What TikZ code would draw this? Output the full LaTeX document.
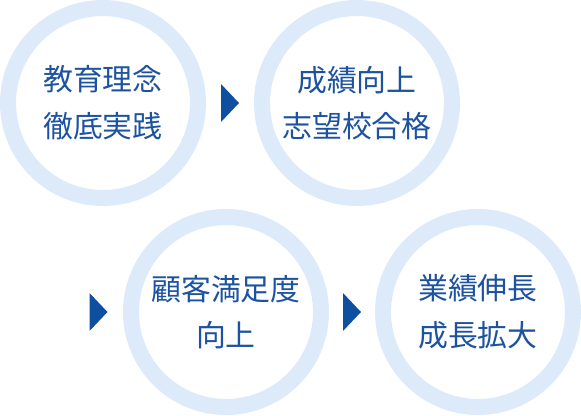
\documentclass[tikz,border=0pt]{standalone}
\usepackage{fontspec}
\newfontfamily\jpfont{Noto Sans CJK JP}
\usetikzlibrary{calc, positioning}
\definecolor{ringblue}{RGB}{221,234,250}
\definecolor{textblue}{RGB}{28,82,160}
\definecolor{triblue}{RGB}{14,79,159}

\begin{document}
\begin{tikzpicture}[
    ring/.style={circle, draw=ringblue, line width=0.32cm, fill=white, minimum size=3.8cm, inner sep=0pt,
        align=center, text=textblue, font=\jpfont\fontsize{17pt}{26.5pt}\selectfont},
    tri/.style={fill=triblue},
]
\useasboundingbox (0,0) rectangle (11.62,8.3);
% --- top row ---
\node[ring] (c1) at (2.06, 6.24) {教育理念\\徹底実践};
\node[ring] (c2) at (7.14, 6.24) {成績向上\\志望校合格};
% --- bottom row ---
\node[ring] (c3) at (4.52, 2.06) {顧客満足度\\向上};
\node[ring] (c4) at (9.56, 2.06) {業績伸長\\成長拡大};
% --- arrow heads ---
\coordinate (t1) at ($(c1)!0.5!(c2)$);
\coordinate (t2) at ($(c3)+(-2.55,0)$);
\coordinate (t3) at ($(c3)!0.5!(c4)$);
\foreach \t in {t1, t2, t3} {
    \fill[tri] ($(\t)+(-0.18,0.38)$) -- ($(\t)+(0.18,0)$) -- ($(\t)+(-0.18,-0.38)$) -- cycle;
}
\end{tikzpicture}
\end{document}
